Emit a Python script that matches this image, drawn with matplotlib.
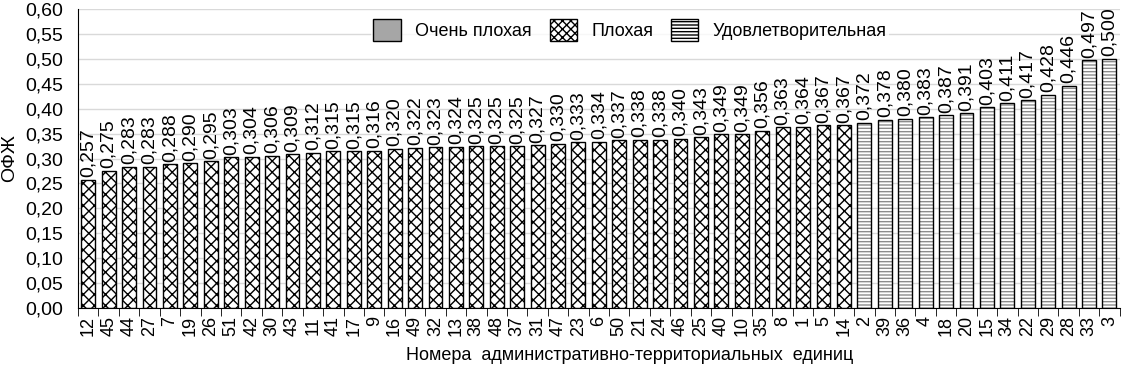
import matplotlib
matplotlib.use('Agg')
import matplotlib.pyplot as plt
from matplotlib.patches import Patch
from matplotlib.ticker import FuncFormatter, MultipleLocator
import numpy as np

plt.rcParams['font.family'] = ['Liberation Sans', 'DejaVu Sans']

# Номера АТЕ (по возрастанию ОФЖ)
units = ['12', '45', '44', '27', '7', '19', '26', '51', '42', '30', '43', '11', '41',
         '17', '9', '16', '49', '32', '13', '38', '48', '37', '31', '47', '23', '6',
         '50', '21', '24', '46', '25', '40', '10', '35', '8', '1', '5', '14',
         '2', '39', '36', '4', '18', '20', '15', '34', '22', '29', '28', '33', '3']
ofzh = [0.257, 0.275, 0.283, 0.283, 0.288, 0.290, 0.295, 0.303, 0.304, 0.306, 0.309,
        0.312, 0.315, 0.315, 0.316, 0.320, 0.322, 0.323, 0.324, 0.325, 0.325, 0.325,
        0.327, 0.330, 0.333, 0.334, 0.337, 0.338, 0.338, 0.340, 0.343, 0.349, 0.349,
        0.356, 0.363, 0.364, 0.367, 0.367,
        0.372, 0.378, 0.380, 0.383, 0.387, 0.391, 0.403, 0.411, 0.417, 0.428, 0.446,
        0.497, 0.500]
# оценка: 'Плохая' или 'Удовлетворительная'
status = ['Плохая'] * 38 + ['Удовлетворительная'] * 13

fig = plt.figure(figsize=(11.23, 3.69), dpi=100)
ax = fig.add_axes([0.0695, 0.1653, 0.9275, 0.8103])

x = np.arange(len(units))
vals = np.array(ofzh)
bad = np.array([s == 'Плохая' for s in status])
ok = ~bad
w = 0.68

# плохая: перекрёстная штриховка
ax.bar(x[bad], vals[bad], width=w, color='white', edgecolor='black',
       hatch='xxx', linewidth=1, zorder=2)
# удовлетворительная: серые горизонтальные линии, затем чёрный контур
ax.bar(x[ok], vals[ok], width=w, color='white', edgecolor='#8c8c8c',
       hatch='-----', linewidth=0, zorder=2)
ax.bar(x[ok], vals[ok], width=w, color='none', edgecolor='black', linewidth=1, zorder=3)

for xi, v in zip(x, vals):
    ax.text(xi, v + 0.005, f'{v:.3f}'.replace('.', ','), rotation=90,
            ha='center', va='bottom', fontsize=14)

ax.set_xlim(-0.5, len(units) - 0.5)
ax.set_ylim(0, 0.6)
ax.yaxis.set_major_locator(MultipleLocator(0.05))
ax.yaxis.set_major_formatter(FuncFormatter(lambda v, p: f'{v:.2f}'.replace('.', ',')))
ax.grid(axis='y', color='#d9d9d9', linewidth=1, zorder=0)
ax.set_axisbelow(True)

ax.set_xticks(x)
ax.set_xticklabels(units, rotation=90, fontsize=13)
ax.set_xticks(np.arange(-0.5, len(units)), minor=True)
ax.tick_params(axis='x', which='major', length=0, pad=6)
ax.tick_params(axis='x', which='minor', length=6, direction='out', color='black')
ax.tick_params(axis='y', length=0, labelsize=14, pad=11)

for s in ['top', 'right']:
    ax.spines[s].set_visible(False)
ax.spines['left'].set_color('black')
ax.spines['bottom'].set_color('black')

ax.set_ylabel('ОФЖ', fontsize=14, labelpad=5)
ax.set_xlabel('Номера  административно-территориальных  единиц', fontsize=13, va='center')
ax.xaxis.set_label_coords(0.53, -0.16)

handles = [Patch(facecolor='#a6a6a6', edgecolor='black', label='Очень плохая'),
           Patch(facecolor='white', edgecolor='black', hatch='xxxx', label='Плохая'),
           Patch(facecolor='white', edgecolor='black', hatch='-----', label='Удовлетворительная')]
leg = ax.legend(handles=handles, loc='upper center', bbox_to_anchor=(0.53, 1.005), ncol=3,
                fontsize=13, frameon=True, fancybox=False, edgecolor='white',
                handlelength=1.5, handleheight=1.5, columnspacing=1.0, handletextpad=0.8,
                borderpad=0.15)
leg.get_frame().set_linewidth(0)

fig.savefig('out.png', dpi=100)
